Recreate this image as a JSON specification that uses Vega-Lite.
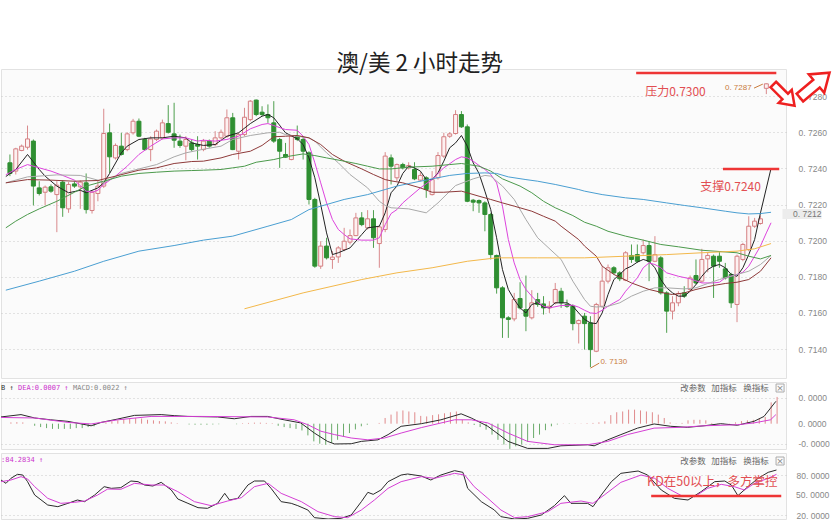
{
  "$schema": "https://vega.github.io/schema/vega-lite/v6.json",
  "background": "white",
  "padding": {"left": 0, "top": 52, "right": 0, "bottom": 0},
  "autosize": {"type": "pad"},
  "spacing": 2,
  "resolve": {"scale": {"color": "independent", "y": "independent", "x": "independent"}},
  "config": {
    "view": {"fill": "#fbfbfb", "stroke": "#e2e2e2", "strokeWidth": 1},
    "axis": {"labelFont": "Liberation Sans", "labelFontSize": 8.5, "labelColor": "#888888", "domain": false, "ticks": false, "gridDash": [1, 3], "gridColor": "#c8c8c8", "labelOverlap": false},
    "text": {"font": "Noto Sans CJK SC"}
  },
  "datasets": {
    "one": [{}],
    "candles": [
      {"i":0,"o":0.72431,"h":0.72477,"l":0.72357,"c":0.72372},
      {"i":1,"o":0.72385,"h":0.72514,"l":0.72366,"c":0.72508},
      {"i":2,"o":0.72499,"h":0.72532,"l":0.72495,"c":0.72523},
      {"i":3,"o":0.72517,"h":0.72637,"l":0.72504,"c":0.72563},
      {"i":4,"o":0.72551,"h":0.72560,"l":0.72195,"c":0.72302},
      {"i":5,"o":0.72292,"h":0.72329,"l":0.72250,"c":0.72261},
      {"i":6,"o":0.72268,"h":0.72305,"l":0.72195,"c":0.72296},
      {"i":7,"o":0.72298,"h":0.72311,"l":0.72265,"c":0.72274},
      {"i":8,"o":0.72255,"h":0.72329,"l":0.72047,"c":0.72307},
      {"i":9,"o":0.72324,"h":0.72333,"l":0.72132,"c":0.72182},
      {"i":10,"o":0.72176,"h":0.72324,"l":0.72154,"c":0.72311},
      {"i":11,"o":0.72314,"h":0.72329,"l":0.72292,"c":0.72302},
      {"i":12,"o":0.72298,"h":0.72333,"l":0.72176,"c":0.72324},
      {"i":13,"o":0.72320,"h":0.72372,"l":0.72150,"c":0.72172},
      {"i":14,"o":0.72167,"h":0.72279,"l":0.72150,"c":0.72268},
      {"i":15,"o":0.72261,"h":0.72333,"l":0.72218,"c":0.72302},
      {"i":16,"o":0.72302,"h":0.72730,"l":0.72292,"c":0.72593},
      {"i":17,"o":0.72597,"h":0.72648,"l":0.72375,"c":0.72464},
      {"i":18,"o":0.72458,"h":0.72538,"l":0.72449,"c":0.72527},
      {"i":19,"o":0.72523,"h":0.72597,"l":0.72471,"c":0.72477},
      {"i":20,"o":0.72504,"h":0.72600,"l":0.72495,"c":0.72591},
      {"i":21,"o":0.72597,"h":0.72674,"l":0.72587,"c":0.72661},
      {"i":22,"o":0.72661,"h":0.72676,"l":0.72573,"c":0.72578},
      {"i":23,"o":0.72560,"h":0.72569,"l":0.72499,"c":0.72504},
      {"i":24,"o":0.72504,"h":0.72578,"l":0.72440,"c":0.72563},
      {"i":25,"o":0.72560,"h":0.72615,"l":0.72551,"c":0.72606},
      {"i":26,"o":0.72569,"h":0.72670,"l":0.72560,"c":0.72652},
      {"i":27,"o":0.72648,"h":0.72750,"l":0.72593,"c":0.72600},
      {"i":28,"o":0.72591,"h":0.72763,"l":0.72514,"c":0.72556},
      {"i":29,"o":0.72551,"h":0.72587,"l":0.72514,"c":0.72527},
      {"i":30,"o":0.72523,"h":0.72578,"l":0.72445,"c":0.72560},
      {"i":31,"o":0.72541,"h":0.72560,"l":0.72495,"c":0.72504},
      {"i":32,"o":0.72532,"h":0.72578,"l":0.72449,"c":0.72523},
      {"i":33,"o":0.72504,"h":0.72563,"l":0.72495,"c":0.72551},
      {"i":34,"o":0.72551,"h":0.72560,"l":0.72514,"c":0.72523},
      {"i":35,"o":0.72532,"h":0.72606,"l":0.72523,"c":0.72569},
      {"i":36,"o":0.72569,"h":0.72615,"l":0.72560,"c":0.72600},
      {"i":37,"o":0.72578,"h":0.72726,"l":0.72569,"c":0.72680},
      {"i":38,"o":0.72680,"h":0.72707,"l":0.72501,"c":0.72504},
      {"i":39,"o":0.72495,"h":0.72597,"l":0.72449,"c":0.72587},
      {"i":40,"o":0.72587,"h":0.72735,"l":0.72578,"c":0.72683},
      {"i":41,"o":0.72670,"h":0.72778,"l":0.72661,"c":0.72772},
      {"i":42,"o":0.72778,"h":0.72781,"l":0.72689,"c":0.72698},
      {"i":43,"o":0.72711,"h":0.72744,"l":0.72689,"c":0.72698},
      {"i":44,"o":0.72698,"h":0.72754,"l":0.72652,"c":0.72680},
      {"i":45,"o":0.72652,"h":0.72772,"l":0.72541,"c":0.72551},
      {"i":46,"o":0.72560,"h":0.72569,"l":0.72403,"c":0.72495},
      {"i":47,"o":0.72477,"h":0.72541,"l":0.72458,"c":0.72462},
      {"i":48,"o":0.72449,"h":0.72582,"l":0.72445,"c":0.72578},
      {"i":49,"o":0.72575,"h":0.72637,"l":0.72551,"c":0.72560},
      {"i":50,"o":0.72560,"h":0.72578,"l":0.72449,"c":0.72495},
      {"i":51,"o":0.72486,"h":0.72495,"l":0.72200,"c":0.72228},
      {"i":52,"o":0.72228,"h":0.72237,"l":0.71850,"c":0.71859},
      {"i":53,"o":0.71859,"h":0.71997,"l":0.71844,"c":0.71970},
      {"i":54,"o":0.71970,"h":0.72016,"l":0.71896,"c":0.71905},
      {"i":55,"o":0.71896,"h":0.71942,"l":0.71844,"c":0.71909},
      {"i":56,"o":0.71910,"h":0.71970,"l":0.71877,"c":0.71960},
      {"i":57,"o":0.71951,"h":0.72071,"l":0.71942,"c":0.71997},
      {"i":58,"o":0.71992,"h":0.72062,"l":0.71979,"c":0.72028},
      {"i":59,"o":0.72028,"h":0.72154,"l":0.72025,"c":0.72126},
      {"i":60,"o":0.72126,"h":0.72158,"l":0.72080,"c":0.72089},
      {"i":61,"o":0.72071,"h":0.72169,"l":0.72062,"c":0.72121},
      {"i":62,"o":0.72121,"h":0.72169,"l":0.71960,"c":0.72016},
      {"i":63,"o":0.71984,"h":0.72080,"l":0.71850,"c":0.72076},
      {"i":64,"o":0.72062,"h":0.72490,"l":0.72047,"c":0.72468},
      {"i":65,"o":0.72458,"h":0.72477,"l":0.72311,"c":0.72412},
      {"i":66,"o":0.72348,"h":0.72427,"l":0.72329,"c":0.72421},
      {"i":67,"o":0.72421,"h":0.72431,"l":0.72394,"c":0.72403},
      {"i":68,"o":0.72403,"h":0.72434,"l":0.72394,"c":0.72416},
      {"i":69,"o":0.72394,"h":0.72434,"l":0.72335,"c":0.72342},
      {"i":70,"o":0.72335,"h":0.72379,"l":0.72329,"c":0.72361},
      {"i":71,"o":0.72348,"h":0.72357,"l":0.72237,"c":0.72283},
      {"i":72,"o":0.72255,"h":0.72385,"l":0.72250,"c":0.72338},
      {"i":73,"o":0.72348,"h":0.72490,"l":0.72338,"c":0.72471},
      {"i":74,"o":0.72468,"h":0.72597,"l":0.72458,"c":0.72575},
      {"i":75,"o":0.72578,"h":0.72600,"l":0.72569,"c":0.72591},
      {"i":76,"o":0.72593,"h":0.72722,"l":0.72587,"c":0.72698},
      {"i":77,"o":0.72698,"h":0.72717,"l":0.72624,"c":0.72630},
      {"i":78,"o":0.72630,"h":0.72643,"l":0.72213,"c":0.72218},
      {"i":79,"o":0.72224,"h":0.72231,"l":0.72163,"c":0.72213},
      {"i":80,"o":0.72222,"h":0.72228,"l":0.72154,"c":0.72209},
      {"i":81,"o":0.72209,"h":0.72218,"l":0.72052,"c":0.72145},
      {"i":82,"o":0.72145,"h":0.72154,"l":0.71896,"c":0.71923},
      {"i":83,"o":0.71918,"h":0.71923,"l":0.71707,"c":0.71739},
      {"i":84,"o":0.71739,"h":0.71748,"l":0.71462,"c":0.71573},
      {"i":85,"o":0.71573,"h":0.71582,"l":0.71462,"c":0.71564},
      {"i":86,"o":0.71567,"h":0.71711,"l":0.71554,"c":0.71674},
      {"i":87,"o":0.71680,"h":0.71770,"l":0.71619,"c":0.71628},
      {"i":88,"o":0.71619,"h":0.71807,"l":0.71499,"c":0.71582},
      {"i":89,"o":0.71573,"h":0.71726,"l":0.71564,"c":0.71656},
      {"i":90,"o":0.71674,"h":0.71711,"l":0.71634,"c":0.71647},
      {"i":91,"o":0.71650,"h":0.71693,"l":0.71591,"c":0.71628},
      {"i":92,"o":0.71628,"h":0.71665,"l":0.71600,"c":0.71637},
      {"i":93,"o":0.71656,"h":0.71766,"l":0.71647,"c":0.71730},
      {"i":94,"o":0.71720,"h":0.71739,"l":0.71628,"c":0.71656},
      {"i":95,"o":0.71647,"h":0.71674,"l":0.71628,"c":0.71637},
      {"i":96,"o":0.71637,"h":0.71647,"l":0.71504,"c":0.71541},
      {"i":97,"o":0.71541,"h":0.71564,"l":0.71431,"c":0.71558},
      {"i":98,"o":0.71582,"h":0.71600,"l":0.71397,"c":0.71541},
      {"i":99,"o":0.71545,"h":0.71582,"l":0.71300,"c":0.71397},
      {"i":100,"o":0.71388,"h":0.71656,"l":0.71383,"c":0.71647},
      {"i":101,"o":0.71637,"h":0.71859,"l":0.71628,"c":0.71776},
      {"i":102,"o":0.71776,"h":0.71868,"l":0.71763,"c":0.71850},
      {"i":103,"o":0.71850,"h":0.71859,"l":0.71813,"c":0.71822},
      {"i":104,"o":0.71822,"h":0.71831,"l":0.71776,"c":0.71789},
      {"i":105,"o":0.71781,"h":0.71942,"l":0.71776,"c":0.71933},
      {"i":106,"o":0.71918,"h":0.71979,"l":0.71877,"c":0.71896},
      {"i":107,"o":0.71923,"h":0.71979,"l":0.71877,"c":0.71886},
      {"i":108,"o":0.71933,"h":0.72006,"l":0.71923,"c":0.71973},
      {"i":109,"o":0.71973,"h":0.71997,"l":0.71776,"c":0.71886},
      {"i":110,"o":0.71886,"h":0.72025,"l":0.71881,"c":0.71923},
      {"i":111,"o":0.71905,"h":0.71914,"l":0.71702,"c":0.71711},
      {"i":112,"o":0.71711,"h":0.71720,"l":0.71490,"c":0.71610},
      {"i":113,"o":0.71610,"h":0.71693,"l":0.71564,"c":0.71656},
      {"i":114,"o":0.71656,"h":0.71720,"l":0.71637,"c":0.71707},
      {"i":115,"o":0.71711,"h":0.71748,"l":0.71683,"c":0.71693},
      {"i":116,"o":0.71730,"h":0.71807,"l":0.71720,"c":0.71794},
      {"i":117,"o":0.71807,"h":0.71896,"l":0.71757,"c":0.71766},
      {"i":118,"o":0.71776,"h":0.71955,"l":0.71766,"c":0.71896},
      {"i":119,"o":0.71899,"h":0.71933,"l":0.71825,"c":0.71918},
      {"i":120,"o":0.71914,"h":0.71923,"l":0.71683,"c":0.71859},
      {"i":121,"o":0.71914,"h":0.71942,"l":0.71850,"c":0.71886},
      {"i":122,"o":0.71844,"h":0.71877,"l":0.71785,"c":0.71794},
      {"i":123,"o":0.71813,"h":0.71822,"l":0.71628,"c":0.71656},
      {"i":124,"o":0.71647,"h":0.71923,"l":0.71549,"c":0.71914},
      {"i":125,"o":0.71896,"h":0.71988,"l":0.71886,"c":0.71979},
      {"i":126,"o":0.71951,"h":0.72135,"l":0.71942,"c":0.72080},
      {"i":127,"o":0.72080,"h":0.72126,"l":0.72071,"c":0.72108},
      {"i":128,"o":0.72095,"h":0.72139,"l":0.72089,"c":0.72121},
      {"i":129,"o":0.72843,"h":0.72870,"l":0.72811,"c":0.72868}
    ],
    "ma": [
      {"m":"MA5","i":-0.7,"v":0.72355},{"m":"MA5","i":1,"v":0.72394},{"m":"MA5","i":3,"v":0.72477},{"m":"MA5","i":5,"v":0.72394},{"m":"MA5","i":6,"v":0.72357},{"m":"MA5","i":8,"v":0.72302},{"m":"MA5","i":10,"v":0.72265},{"m":"MA5","i":12,"v":0.72279},{"m":"MA5","i":13,"v":0.72265},{"m":"MA5","i":15,"v":0.72292},{"m":"MA5","i":16,"v":0.7232},{"m":"MA5","i":17,"v":0.72372},{"m":"MA5","i":19,"v":0.72486},{"m":"MA5","i":20,"v":0.72523},{"m":"MA5","i":22,"v":0.7256},{"m":"MA5","i":24,"v":0.72569},{"m":"MA5","i":26,"v":0.72569},{"m":"MA5","i":28,"v":0.72578},{"m":"MA5","i":30,"v":0.72569},{"m":"MA5","i":31,"v":0.72541},{"m":"MA5","i":33,"v":0.72527},{"m":"MA5","i":35,"v":0.72532},{"m":"MA5","i":37,"v":0.72578},{"m":"MA5","i":39,"v":0.72597},{"m":"MA5","i":41,"v":0.72648},{"m":"MA5","i":43,"v":0.72689},{"m":"MA5","i":44,"v":0.72698},{"m":"MA5","i":45,"v":0.7268},{"m":"MA5","i":47,"v":0.72597},{"m":"MA5","i":49,"v":0.72564},{"m":"MA5","i":50,"v":0.72532},{"m":"MA5","i":51,"v":0.72458},{"m":"MA5","i":52,"v":0.72348},{"m":"MA5","i":53,"v":0.722},{"m":"MA5","i":54,"v":0.72043},{"m":"MA5","i":55,"v":0.71923},{"m":"MA5","i":56,"v":0.71933},{"m":"MA5","i":58,"v":0.7196},{"m":"MA5","i":60,"v":0.72034},{"m":"MA5","i":61,"v":0.72071},{"m":"MA5","i":63,"v":0.7208},{"m":"MA5","i":64,"v":0.72154},{"m":"MA5","i":65,"v":0.72265},{"m":"MA5","i":66,"v":0.72302},{"m":"MA5","i":67,"v":0.72372},{"m":"MA5","i":68,"v":0.72412},{"m":"MA5","i":69,"v":0.72403},{"m":"MA5","i":70,"v":0.72385},{"m":"MA5","i":71,"v":0.72338},{"m":"MA5","i":72,"v":0.72338},{"m":"MA5","i":73,"v":0.72375},{"m":"MA5","i":74,"v":0.7244},{"m":"MA5","i":75,"v":0.72514},{"m":"MA5","i":76,"v":0.72541},{"m":"MA5","i":77,"v":0.72582},{"m":"MA5","i":78,"v":0.72523},{"m":"MA5","i":79,"v":0.72431},{"m":"MA5","i":80,"v":0.72372},{"m":"MA5","i":81,"v":0.72274},{"m":"MA5","i":82,"v":0.72172},{"m":"MA5","i":83,"v":0.72016},{"m":"MA5","i":84,"v":0.7184},{"m":"MA5","i":85,"v":0.7173},{"m":"MA5","i":86,"v":0.71674},{"m":"MA5","i":87,"v":0.71628},{"m":"MA5","i":88,"v":0.716},{"m":"MA5","i":89,"v":0.71647},{"m":"MA5","i":90,"v":0.71656},{"m":"MA5","i":91,"v":0.71634},{"m":"MA5","i":92,"v":0.71628},{"m":"MA5","i":93,"v":0.71656},{"m":"MA5","i":95,"v":0.71656},{"m":"MA5","i":96,"v":0.71637},{"m":"MA5","i":97,"v":0.716},{"m":"MA5","i":98,"v":0.71564},{"m":"MA5","i":99,"v":0.71545},{"m":"MA5","i":100,"v":0.71541},{"m":"MA5","i":101,"v":0.716},{"m":"MA5","i":102,"v":0.71702},{"m":"MA5","i":103,"v":0.71785},{"m":"MA5","i":104,"v":0.71813},{"m":"MA5","i":105,"v":0.71844},{"m":"MA5","i":106,"v":0.71859},{"m":"MA5","i":107,"v":0.71881},{"m":"MA5","i":108,"v":0.71896},{"m":"MA5","i":109,"v":0.71886},{"m":"MA5","i":110,"v":0.7185},{"m":"MA5","i":111,"v":0.71785},{"m":"MA5","i":112,"v":0.71739},{"m":"MA5","i":113,"v":0.71711},{"m":"MA5","i":114,"v":0.71693},{"m":"MA5","i":115,"v":0.71693},{"m":"MA5","i":116,"v":0.7172},{"m":"MA5","i":117,"v":0.71757},{"m":"MA5","i":118,"v":0.71803},{"m":"MA5","i":119,"v":0.7184},{"m":"MA5","i":120,"v":0.71859},{"m":"MA5","i":121,"v":0.71868},{"m":"MA5","i":122,"v":0.7185},{"m":"MA5","i":123,"v":0.71813},{"m":"MA5","i":124,"v":0.71803},{"m":"MA5","i":125,"v":0.7185},{"m":"MA5","i":126,"v":0.71923},{"m":"MA5","i":127,"v":0.72006},{"m":"MA5","i":128,"v":0.72154},{"m":"MA5","i":129.8,"v":0.724},
      {"m":"MA10","i":-0.7,"v":0.72365},{"m":"MA10","i":1,"v":0.72394},{"m":"MA10","i":3,"v":0.72421},{"m":"MA10","i":5,"v":0.72403},{"m":"MA10","i":7,"v":0.72385},{"m":"MA10","i":9,"v":0.72361},{"m":"MA10","i":11,"v":0.72335},{"m":"MA10","i":13,"v":0.72274},{"m":"MA10","i":14,"v":0.72268},{"m":"MA10","i":15,"v":0.72279},{"m":"MA10","i":16,"v":0.72311},{"m":"MA10","i":18,"v":0.72357},{"m":"MA10","i":20,"v":0.72412},{"m":"MA10","i":22,"v":0.72477},{"m":"MA10","i":24,"v":0.72523},{"m":"MA10","i":26,"v":0.72563},{"m":"MA10","i":28,"v":0.72569},{"m":"MA10","i":30,"v":0.72569},{"m":"MA10","i":32,"v":0.72551},{"m":"MA10","i":33,"v":0.72556},{"m":"MA10","i":35,"v":0.72551},{"m":"MA10","i":37,"v":0.7256},{"m":"MA10","i":39,"v":0.72578},{"m":"MA10","i":41,"v":0.72619},{"m":"MA10","i":43,"v":0.72643},{"m":"MA10","i":44,"v":0.72648},{"m":"MA10","i":45,"v":0.72637},{"m":"MA10","i":47,"v":0.72615},{"m":"MA10","i":49,"v":0.72611},{"m":"MA10","i":50,"v":0.72578},{"m":"MA10","i":51,"v":0.72532},{"m":"MA10","i":52,"v":0.72431},{"m":"MA10","i":53,"v":0.7232},{"m":"MA10","i":54,"v":0.72209},{"m":"MA10","i":55,"v":0.72117},{"m":"MA10","i":56,"v":0.72062},{"m":"MA10","i":57,"v":0.72034},{"m":"MA10","i":58,"v":0.7201},{"m":"MA10","i":60,"v":0.72003},{"m":"MA10","i":62,"v":0.72003},{"m":"MA10","i":63,"v":0.72016},{"m":"MA10","i":64,"v":0.72089},{"m":"MA10","i":65,"v":0.7215},{"m":"MA10","i":66,"v":0.72172},{"m":"MA10","i":67,"v":0.72209},{"m":"MA10","i":68,"v":0.72237},{"m":"MA10","i":70,"v":0.72292},{"m":"MA10","i":72,"v":0.72338},{"m":"MA10","i":73,"v":0.72372},{"m":"MA10","i":74,"v":0.72403},{"m":"MA10","i":76,"v":0.72449},{"m":"MA10","i":77,"v":0.72464},{"m":"MA10","i":78,"v":0.72458},{"m":"MA10","i":79,"v":0.7244},{"m":"MA10","i":80,"v":0.72416},{"m":"MA10","i":81,"v":0.72394},{"m":"MA10","i":82,"v":0.72366},{"m":"MA10","i":83,"v":0.7232},{"m":"MA10","i":84,"v":0.72191},{"m":"MA10","i":85,"v":0.72006},{"m":"MA10","i":86,"v":0.71877},{"m":"MA10","i":87,"v":0.71785},{"m":"MA10","i":88,"v":0.7173},{"m":"MA10","i":89,"v":0.71693},{"m":"MA10","i":90,"v":0.71659},{"m":"MA10","i":91,"v":0.71637},{"m":"MA10","i":92,"v":0.71628},{"m":"MA10","i":94,"v":0.71641},{"m":"MA10","i":96,"v":0.71643},{"m":"MA10","i":97,"v":0.71632},{"m":"MA10","i":98,"v":0.71615},{"m":"MA10","i":99,"v":0.716},{"m":"MA10","i":100,"v":0.71597},{"m":"MA10","i":101,"v":0.71615},{"m":"MA10","i":102,"v":0.71637},{"m":"MA10","i":103,"v":0.71656},{"m":"MA10","i":104,"v":0.71674},{"m":"MA10","i":105,"v":0.7172},{"m":"MA10","i":106,"v":0.71757},{"m":"MA10","i":107,"v":0.71794},{"m":"MA10","i":108,"v":0.7185},{"m":"MA10","i":109,"v":0.71877},{"m":"MA10","i":110,"v":0.71868},{"m":"MA10","i":111,"v":0.7185},{"m":"MA10","i":112,"v":0.71822},{"m":"MA10","i":114,"v":0.71803},{"m":"MA10","i":116,"v":0.71789},{"m":"MA10","i":118,"v":0.71766},{"m":"MA10","i":120,"v":0.71766},{"m":"MA10","i":121,"v":0.7177},{"m":"MA10","i":122,"v":0.71794},{"m":"MA10","i":124,"v":0.71813},{"m":"MA10","i":125,"v":0.71825},{"m":"MA10","i":126,"v":0.71859},{"m":"MA10","i":127,"v":0.71914},{"m":"MA10","i":128,"v":0.7197},{"m":"MA10","i":129,"v":0.72043},{"m":"MA10","i":129.8,"v":0.72099},
      {"m":"MA20","i":-0.7,"v":0.7232},{"m":"MA20","i":3,"v":0.72353},{"m":"MA20","i":8,"v":0.72364},{"m":"MA20","i":12,"v":0.72361},{"m":"MA20","i":15,"v":0.72335},{"m":"MA20","i":16,"v":0.7232},{"m":"MA20","i":19,"v":0.72372},{"m":"MA20","i":22,"v":0.72397},{"m":"MA20","i":25,"v":0.72421},{"m":"MA20","i":28,"v":0.72464},{"m":"MA20","i":30,"v":0.72486},{"m":"MA20","i":33,"v":0.72506},{"m":"MA20","i":36,"v":0.72523},{"m":"MA20","i":38,"v":0.7256},{"m":"MA20","i":41,"v":0.72582},{"m":"MA20","i":44,"v":0.72597},{"m":"MA20","i":46,"v":0.726},{"m":"MA20","i":47,"v":0.72587},{"m":"MA20","i":49,"v":0.72578},{"m":"MA20","i":51,"v":0.72569},{"m":"MA20","i":52,"v":0.72551},{"m":"MA20","i":54,"v":0.72486},{"m":"MA20","i":56,"v":0.72431},{"m":"MA20","i":58,"v":0.72366},{"m":"MA20","i":61,"v":0.72292},{"m":"MA20","i":63,"v":0.72218},{"m":"MA20","i":64,"v":0.72195},{"m":"MA20","i":65,"v":0.72182},{"m":"MA20","i":66,"v":0.7218},{"m":"MA20","i":68,"v":0.72176},{"m":"MA20","i":71,"v":0.72154},{"m":"MA20","i":73,"v":0.72209},{"m":"MA20","i":76,"v":0.72305},{"m":"MA20","i":79,"v":0.72342},{"m":"MA20","i":81,"v":0.72361},{"m":"MA20","i":82,"v":0.72357},{"m":"MA20","i":84,"v":0.72302},{"m":"MA20","i":86,"v":0.72228},{"m":"MA20","i":88,"v":0.72117},{"m":"MA20","i":90,"v":0.72016},{"m":"MA20","i":94,"v":0.71896},{"m":"MA20","i":96,"v":0.71776},{"m":"MA20","i":98,"v":0.71674},{"m":"MA20","i":99,"v":0.71637},{"m":"MA20","i":100,"v":0.71633},{"m":"MA20","i":102,"v":0.71637},{"m":"MA20","i":104,"v":0.71656},{"m":"MA20","i":106,"v":0.71693},{"m":"MA20","i":108,"v":0.7172},{"m":"MA20","i":110,"v":0.71739},{"m":"MA20","i":112,"v":0.71739},{"m":"MA20","i":115,"v":0.71733},{"m":"MA20","i":117,"v":0.71739},{"m":"MA20","i":119,"v":0.71763},{"m":"MA20","i":121,"v":0.71785},{"m":"MA20","i":124,"v":0.71813},{"m":"MA20","i":126,"v":0.71831},{"m":"MA20","i":128,"v":0.71868},{"m":"MA20","i":129.8,"v":0.71918},
      {"m":"MA30","i":-0.7,"v":0.7232},{"m":"MA30","i":3,"v":0.72338},{"m":"MA30","i":7,"v":0.72335},{"m":"MA30","i":11,"v":0.72329},{"m":"MA30","i":15,"v":0.72333},{"m":"MA30","i":18,"v":0.72357},{"m":"MA30","i":22,"v":0.7239},{"m":"MA30","i":25,"v":0.72403},{"m":"MA30","i":28,"v":0.72427},{"m":"MA30","i":31,"v":0.72438},{"m":"MA30","i":33,"v":0.7244},{"m":"MA30","i":36,"v":0.72458},{"m":"MA30","i":38,"v":0.72477},{"m":"MA30","i":41,"v":0.72495},{"m":"MA30","i":43,"v":0.72527},{"m":"MA30","i":45,"v":0.72575},{"m":"MA30","i":47,"v":0.72578},{"m":"MA30","i":49,"v":0.72582},{"m":"MA30","i":51,"v":0.72569},{"m":"MA30","i":53,"v":0.72532},{"m":"MA30","i":55,"v":0.72477},{"m":"MA30","i":57,"v":0.7244},{"m":"MA30","i":60,"v":0.72397},{"m":"MA30","i":62,"v":0.72366},{"m":"MA30","i":64,"v":0.72338},{"m":"MA30","i":65,"v":0.72331},{"m":"MA30","i":67,"v":0.7232},{"m":"MA30","i":70,"v":0.72292},{"m":"MA30","i":72,"v":0.72268},{"m":"MA30","i":74,"v":0.72268},{"m":"MA30","i":77,"v":0.72274},{"m":"MA30","i":78,"v":0.72265},{"m":"MA30","i":80,"v":0.72246},{"m":"MA30","i":82,"v":0.72228},{"m":"MA30","i":84,"v":0.72209},{"m":"MA30","i":86,"v":0.72191},{"m":"MA30","i":89,"v":0.72163},{"m":"MA30","i":91,"v":0.72135},{"m":"MA30","i":93,"v":0.72108},{"m":"MA30","i":94,"v":0.7208},{"m":"MA30","i":97,"v":0.72006},{"m":"MA30","i":98,"v":0.7197},{"m":"MA30","i":100,"v":0.71914},{"m":"MA30","i":101,"v":0.71859},{"m":"MA30","i":103,"v":0.71813},{"m":"MA30","i":106,"v":0.71766},{"m":"MA30","i":109,"v":0.7173},{"m":"MA30","i":112,"v":0.71707},{"m":"MA30","i":113,"v":0.71702},{"m":"MA30","i":115,"v":0.71711},{"m":"MA30","i":117,"v":0.7173},{"m":"MA30","i":120,"v":0.71752},{"m":"MA30","i":122,"v":0.71763},{"m":"MA30","i":124,"v":0.7177},{"m":"MA30","i":126,"v":0.71785},{"m":"MA30","i":128,"v":0.71831},{"m":"MA30","i":129.8,"v":0.71905},
      {"m":"MA60","i":-0.7,"v":0.72071},{"m":"MA60","i":1,"v":0.72108},{"m":"MA60","i":3,"v":0.72145},{"m":"MA60","i":5,"v":0.72176},{"m":"MA60","i":8,"v":0.72218},{"m":"MA60","i":11,"v":0.72268},{"m":"MA60","i":13,"v":0.72302},{"m":"MA60","i":16,"v":0.72329},{"m":"MA60","i":19,"v":0.72357},{"m":"MA60","i":22,"v":0.72372},{"m":"MA60","i":25,"v":0.72379},{"m":"MA60","i":28,"v":0.72385},{"m":"MA60","i":31,"v":0.72388},{"m":"MA60","i":33,"v":0.7239},{"m":"MA60","i":36,"v":0.72394},{"m":"MA60","i":38,"v":0.72403},{"m":"MA60","i":40,"v":0.72412},{"m":"MA60","i":42,"v":0.72434},{"m":"MA60","i":45,"v":0.72449},{"m":"MA60","i":47,"v":0.72464},{"m":"MA60","i":50,"v":0.7248},{"m":"MA60","i":52,"v":0.72471},{"m":"MA60","i":54,"v":0.72458},{"m":"MA60","i":57,"v":0.7244},{"m":"MA60","i":59,"v":0.72427},{"m":"MA60","i":61,"v":0.72412},{"m":"MA60","i":63,"v":0.72397},{"m":"MA60","i":65,"v":0.72397},{"m":"MA60","i":68,"v":0.72407},{"m":"MA60","i":72,"v":0.72412},{"m":"MA60","i":75,"v":0.72421},{"m":"MA60","i":77,"v":0.72427},{"m":"MA60","i":80,"v":0.72412},{"m":"MA60","i":82,"v":0.72385},{"m":"MA60","i":84,"v":0.72342},{"m":"MA60","i":87,"v":0.72302},{"m":"MA60","i":89,"v":0.72265},{"m":"MA60","i":91,"v":0.72218},{"m":"MA60","i":93,"v":0.72182},{"m":"MA60","i":96,"v":0.72139},{"m":"MA60","i":98,"v":0.72102},{"m":"MA60","i":100,"v":0.7208},{"m":"MA60","i":102,"v":0.72052},{"m":"MA60","i":105,"v":0.72025},{"m":"MA60","i":108,"v":0.72003},{"m":"MA60","i":111,"v":0.71979},{"m":"MA60","i":114,"v":0.71966},{"m":"MA60","i":118,"v":0.71947},{"m":"MA60","i":121,"v":0.7194},{"m":"MA60","i":124,"v":0.71933},{"m":"MA60","i":126,"v":0.71914},{"m":"MA60","i":128,"v":0.71899},{"m":"MA60","i":129.8,"v":0.71918},
      {"m":"MA120","i":-0.7,"v":0.71726},{"m":"MA120","i":5,"v":0.71776},{"m":"MA120","i":11,"v":0.71831},{"m":"MA120","i":16,"v":0.71886},{"m":"MA120","i":22,"v":0.71942},{"m":"MA120","i":28,"v":0.71973},{"m":"MA120","i":33,"v":0.72003},{"m":"MA120","i":38,"v":0.72025},{"m":"MA120","i":44,"v":0.7208},{"m":"MA120","i":48,"v":0.72117},{"m":"MA120","i":51,"v":0.72172},{"m":"MA120","i":54,"v":0.722},{"m":"MA120","i":57,"v":0.72228},{"m":"MA120","i":61,"v":0.72255},{"m":"MA120","i":64,"v":0.72283},{"m":"MA120","i":66,"v":0.72302},{"m":"MA120","i":68,"v":0.72316},{"m":"MA120","i":72,"v":0.72342},{"m":"MA120","i":75,"v":0.72361},{"m":"MA120","i":78,"v":0.72372},{"m":"MA120","i":81,"v":0.72375},{"m":"MA120","i":83,"v":0.72372},{"m":"MA120","i":85,"v":0.72353},{"m":"MA120","i":88,"v":0.72338},{"m":"MA120","i":90,"v":0.72329},{"m":"MA120","i":93,"v":0.72311},{"m":"MA120","i":97,"v":0.72283},{"m":"MA120","i":98,"v":0.72274},{"m":"MA120","i":101,"v":0.72255},{"m":"MA120","i":105,"v":0.72237},{"m":"MA120","i":108,"v":0.72228},{"m":"MA120","i":112,"v":0.72209},{"m":"MA120","i":115,"v":0.72195},{"m":"MA120","i":118,"v":0.72182},{"m":"MA120","i":122,"v":0.72163},{"m":"MA120","i":124,"v":0.72154},{"m":"MA120","i":126,"v":0.72148},{"m":"MA120","i":128,"v":0.7215},{"m":"MA120","i":129.8,"v":0.72157},
      {"m":"MA200","i":40,"v":0.71623},{"m":"MA200","i":50,"v":0.71711},{"m":"MA200","i":60,"v":0.71785},{"m":"MA200","i":66,"v":0.71822},{"m":"MA200","i":72,"v":0.7185},{"m":"MA200","i":78,"v":0.71886},{"m":"MA200","i":83,"v":0.71905},{"m":"MA200","i":90,"v":0.71905},{"m":"MA200","i":98,"v":0.71905},{"m":"MA200","i":105,"v":0.71914},{"m":"MA200","i":112,"v":0.71923},{"m":"MA200","i":118,"v":0.71933},{"m":"MA200","i":124,"v":0.71942},{"m":"MA200","i":127,"v":0.71955},{"m":"MA200","i":129.8,"v":0.71984}
    ],
    "hist": [
      {"i":1,"h":0.05},{"i":2,"h":0.06},{"i":3,"h":0.05},{"i":5,"h":-0.08},{"i":6,"h":-0.13},{"i":7,"h":-0.17},{"i":8,"h":-0.2},{"i":9,"h":-0.2},{"i":10,"h":-0.2},{"i":11,"h":-0.2},{"i":12,"h":-0.17},{"i":13,"h":-0.17},{"i":14,"h":-0.13},{"i":15,"h":-0.1},{"i":17,"h":0.05},{"i":18,"h":0.09},{"i":19,"h":0.13},{"i":20,"h":0.17},{"i":21,"h":0.2},{"i":22,"h":0.22},{"i":23,"h":0.2},{"i":24,"h":0.15},{"i":25,"h":0.13},{"i":26,"h":0.1},{"i":27,"h":0.09},{"i":28,"h":0.05},{"i":29,"h":0.02},{"i":31,"h":-0.03},{"i":32,"h":-0.04},{"i":33,"h":-0.04},{"i":34,"h":-0.04},{"i":35,"h":-0.03},{"i":36,"h":-0.02},{"i":39,"h":-0.02},{"i":40,"h":0.02},{"i":41,"h":0.03},{"i":42,"h":0.04},{"i":43,"h":0.04},{"i":44,"h":0.03},{"i":45,"h":0.02},{"i":46,"h":-0.08},{"i":47,"h":-0.13},{"i":48,"h":-0.17},{"i":49,"h":-0.2},{"i":50,"h":-0.26},{"i":51,"h":-0.45},{"i":52,"h":-0.68},{"i":53,"h":-0.77},{"i":54,"h":-0.81},{"i":55,"h":-0.74},{"i":56,"h":-0.62},{"i":57,"h":-0.49},{"i":58,"h":-0.36},{"i":59,"h":-0.22},{"i":60,"h":-0.1},{"i":61,"h":-0.04},{"i":63,"h":0.03},{"i":64,"h":0.22},{"i":65,"h":0.35},{"i":66,"h":0.47},{"i":67,"h":0.51},{"i":68,"h":0.47},{"i":69,"h":0.44},{"i":70,"h":0.3},{"i":71,"h":0.28},{"i":72,"h":0.33},{"i":73,"h":0.36},{"i":74,"h":0.4},{"i":75,"h":0.44},{"i":76,"h":0.47},{"i":77,"h":0.15},{"i":78,"h":0.05},{"i":79,"h":-0.05},{"i":80,"h":-0.13},{"i":81,"h":-0.23},{"i":82,"h":-0.42},{"i":83,"h":-0.62},{"i":84,"h":-0.8},{"i":85,"h":-0.97},{"i":86,"h":-0.87},{"i":87,"h":-0.8},{"i":88,"h":-0.7},{"i":89,"h":-0.55},{"i":90,"h":-0.42},{"i":91,"h":-0.25},{"i":92,"h":-0.1},{"i":93,"h":-0.03},{"i":94,"h":0.01},{"i":95,"h":-0.01},{"i":96,"h":0.01},{"i":97,"h":0.01},{"i":98,"h":0.02},{"i":99,"h":0.03},{"i":100,"h":0.05},{"i":101,"h":0.09},{"i":102,"h":0.33},{"i":103,"h":0.44},{"i":104,"h":0.47},{"i":105,"h":0.54},{"i":106,"h":0.54},{"i":107,"h":0.51},{"i":108,"h":0.47},{"i":109,"h":0.44},{"i":110,"h":0.35},{"i":111,"h":0.22},{"i":112,"h":0.05},{"i":113,"h":0.01},{"i":114,"h":0.03},{"i":115,"h":0.13},{"i":116,"h":0.15},{"i":117,"h":0.15},{"i":118,"h":0.13},{"i":119,"h":0.03},{"i":120,"h":0.01},{"i":121,"h":-0.01},{"i":122,"h":0.01},{"i":123,"h":0.05},{"i":124,"h":0.1},{"i":125,"h":0.13},{"i":126,"h":0.15},{"i":127,"h":0.2},{"i":128,"h":0.26},{"i":129,"h":0.82},{"i":130,"h":1.03}
    ],
    "macd": [
      {"k":"DIF","i":-0.67,"v":0.26},{"k":"DIF","i":2.7,"v":0.35},{"k":"DIF","i":5,"v":0.22},{"k":"DIF","i":7.7,"v":0.15},{"k":"DIF","i":10.6,"v":0.09},{"k":"DIF","i":14.5,"v":-0.08},{"k":"DIF","i":16.2,"v":0.05},{"k":"DIF","i":19,"v":0.18},{"k":"DIF","i":21.8,"v":0.32},{"k":"DIF","i":26.3,"v":0.35},{"k":"DIF","i":28.5,"v":0.31},{"k":"DIF","i":30.8,"v":0.28},{"k":"DIF","i":35.8,"v":0.26},{"k":"DIF","i":38.6,"v":0.19},{"k":"DIF","i":41.4,"v":0.28},{"k":"DIF","i":44.2,"v":0.28},{"k":"DIF","i":47,"v":0.15},{"k":"DIF","i":49.8,"v":0.03},{"k":"DIF","i":52.1,"v":-0.36},{"k":"DIF","i":54.3,"v":-0.68},{"k":"DIF","i":55.5,"v":-0.78},{"k":"DIF","i":58.3,"v":-0.77},{"k":"DIF","i":60,"v":-0.68},{"k":"DIF","i":62.8,"v":-0.62},{"k":"DIF","i":64.5,"v":-0.42},{"k":"DIF","i":66.7,"v":-0.1},{"k":"DIF","i":70.1,"v":0},{"k":"DIF","i":73.4,"v":0.15},{"k":"DIF","i":76.8,"v":0.38},{"k":"DIF","i":78.5,"v":0.22},{"k":"DIF","i":81.3,"v":-0.1},{"k":"DIF","i":84.7,"v":-0.68},{"k":"DIF","i":88,"v":-0.95},{"k":"DIF","i":91.4,"v":-0.95},{"k":"DIF","i":93.6,"v":-0.85},{"k":"DIF","i":98.1,"v":-0.81},{"k":"DIF","i":99.2,"v":-0.85},{"k":"DIF","i":101.5,"v":-0.62},{"k":"DIF","i":103.7,"v":-0.42},{"k":"DIF","i":106.5,"v":-0.17},{"k":"DIF","i":109.3,"v":-0.01},{"k":"DIF","i":112.1,"v":-0.1},{"k":"DIF","i":114.9,"v":-0.14},{"k":"DIF","i":117.7,"v":-0.08},{"k":"DIF","i":120.5,"v":0},{"k":"DIF","i":123.3,"v":-0.06},{"k":"DIF","i":126.1,"v":0.09},{"k":"DIF","i":127.8,"v":0.28},{"k":"DIF","i":128.9,"v":0.6},{"k":"DIF","i":129.8,"v":0.86},
      {"k":"DEA","i":-0.67,"v":0.24},{"k":"DEA","i":5,"v":0.22},{"k":"DEA","i":10.6,"v":0.05},{"k":"DEA","i":14.5,"v":-0.01},{"k":"DEA","i":19,"v":0.15},{"k":"DEA","i":24.6,"v":0.28},{"k":"DEA","i":33,"v":0.28},{"k":"DEA","i":44.2,"v":0.26},{"k":"DEA","i":48.7,"v":0.15},{"k":"DEA","i":51,"v":-0.04},{"k":"DEA","i":53.2,"v":-0.29},{"k":"DEA","i":55.5,"v":-0.42},{"k":"DEA","i":58.3,"v":-0.55},{"k":"DEA","i":61.1,"v":-0.62},{"k":"DEA","i":63.9,"v":-0.55},{"k":"DEA","i":66.7,"v":-0.36},{"k":"DEA","i":70.1,"v":-0.15},{"k":"DEA","i":75.7,"v":0.15},{"k":"DEA","i":78.5,"v":0.15},{"k":"DEA","i":81.3,"v":0.03},{"k":"DEA","i":84.7,"v":-0.36},{"k":"DEA","i":88,"v":-0.68},{"k":"DEA","i":92.5,"v":-0.81},{"k":"DEA","i":98.1,"v":-0.81},{"k":"DEA","i":101.5,"v":-0.68},{"k":"DEA","i":104.8,"v":-0.42},{"k":"DEA","i":109.3,"v":-0.17},{"k":"DEA","i":113.8,"v":-0.14},{"k":"DEA","i":117.7,"v":-0.08},{"k":"DEA","i":123.3,"v":-0.04},{"k":"DEA","i":126.1,"v":0.03},{"k":"DEA","i":128.9,"v":0.15},{"k":"DEA","i":129.8,"v":0.35}
    ],
    "kd": [
      {"k":"K","i":-0.67,"v":72.5},{"k":"K","i":0.17,"v":67.5},{"k":"K","i":1,"v":75},{"k":"K","i":2.1,"v":81},{"k":"K","i":3,"v":80},{"k":"K","i":3.8,"v":70},{"k":"K","i":5,"v":50},{"k":"K","i":7.2,"v":35},{"k":"K","i":8.9,"v":32.5},{"k":"K","i":10.6,"v":37.5},{"k":"K","i":12.2,"v":42.5},{"k":"K","i":13.4,"v":40},{"k":"K","i":15.1,"v":50},{"k":"K","i":16.7,"v":62.5},{"k":"K","i":17.9,"v":60},{"k":"K","i":19.5,"v":61},{"k":"K","i":21.2,"v":71},{"k":"K","i":22.4,"v":70},{"k":"K","i":23.5,"v":65},{"k":"K","i":24.9,"v":63.5},{"k":"K","i":26.3,"v":69},{"k":"K","i":28,"v":57.5},{"k":"K","i":29.1,"v":44},{"k":"K","i":30.8,"v":37.5},{"k":"K","i":32.5,"v":31},{"k":"K","i":34.1,"v":30},{"k":"K","i":35.8,"v":37.5},{"k":"K","i":37,"v":52.5},{"k":"K","i":37.8,"v":42.5},{"k":"K","i":39.2,"v":45},{"k":"K","i":40.9,"v":65},{"k":"K","i":42,"v":71},{"k":"K","i":43.7,"v":71},{"k":"K","i":44.8,"v":60},{"k":"K","i":46.5,"v":40},{"k":"K","i":48.2,"v":37.5},{"k":"K","i":49.3,"v":34},{"k":"K","i":51,"v":27.5},{"k":"K","i":52.1,"v":16},{"k":"K","i":54.4,"v":14},{"k":"K","i":56.6,"v":15},{"k":"K","i":58.3,"v":20},{"k":"K","i":60,"v":40},{"k":"K","i":61.1,"v":54},{"k":"K","i":62,"v":51},{"k":"K","i":63.3,"v":57.5},{"k":"K","i":64.5,"v":70},{"k":"K","i":66.7,"v":80},{"k":"K","i":67.8,"v":81.5},{"k":"K","i":70.1,"v":78.5},{"k":"K","i":71.7,"v":72.5},{"k":"K","i":73.4,"v":80},{"k":"K","i":75.7,"v":86.5},{"k":"K","i":77.1,"v":84},{"k":"K","i":77.9,"v":60},{"k":"K","i":80.2,"v":40},{"k":"K","i":82.4,"v":27.5},{"k":"K","i":83.5,"v":17.5},{"k":"K","i":85.8,"v":14},{"k":"K","i":88,"v":15},{"k":"K","i":90.3,"v":20},{"k":"K","i":92.5,"v":34},{"k":"K","i":94.2,"v":49},{"k":"K","i":95.3,"v":37.5},{"k":"K","i":98.1,"v":37.5},{"k":"K","i":99,"v":32.5},{"k":"K","i":100.4,"v":50},{"k":"K","i":102.1,"v":70},{"k":"K","i":103.7,"v":82.5},{"k":"K","i":106.6,"v":86},{"k":"K","i":108.2,"v":80},{"k":"K","i":110.5,"v":57.5},{"k":"K","i":112.7,"v":45},{"k":"K","i":115,"v":42.5},{"k":"K","i":117.2,"v":55},{"k":"K","i":119.5,"v":70},{"k":"K","i":121.2,"v":71},{"k":"K","i":122.3,"v":65},{"k":"K","i":123.4,"v":49},{"k":"K","i":125.1,"v":62.5},{"k":"K","i":126.8,"v":75},{"k":"K","i":128.5,"v":84},{"k":"K","i":129.9,"v":87.5},
      {"k":"D","i":-0.67,"v":70},{"k":"D","i":1,"v":72.5},{"k":"D","i":2.7,"v":77.5},{"k":"D","i":3.8,"v":74},{"k":"D","i":5,"v":62.5},{"k":"D","i":7.2,"v":45},{"k":"D","i":9.4,"v":37.5},{"k":"D","i":11.7,"v":39},{"k":"D","i":13.4,"v":41},{"k":"D","i":15.6,"v":50},{"k":"D","i":17.3,"v":59},{"k":"D","i":19.5,"v":58.5},{"k":"D","i":21.8,"v":67.5},{"k":"D","i":24.6,"v":65},{"k":"D","i":26.8,"v":65},{"k":"D","i":29.1,"v":55},{"k":"D","i":31.9,"v":40},{"k":"D","i":34.7,"v":34},{"k":"D","i":37.5,"v":41},{"k":"D","i":39.8,"v":46},{"k":"D","i":42,"v":62.5},{"k":"D","i":44.3,"v":67.5},{"k":"D","i":46.5,"v":52.5},{"k":"D","i":49.9,"v":40},{"k":"D","i":52.7,"v":25},{"k":"D","i":55.5,"v":17.5},{"k":"D","i":57.7,"v":16},{"k":"D","i":60,"v":27.5},{"k":"D","i":62.2,"v":42.5},{"k":"D","i":64.5,"v":60},{"k":"D","i":66.7,"v":70},{"k":"D","i":70.1,"v":77.5},{"k":"D","i":72.3,"v":75},{"k":"D","i":75.7,"v":82.5},{"k":"D","i":77.4,"v":80},{"k":"D","i":79,"v":62.5},{"k":"D","i":81.3,"v":45},{"k":"D","i":83.5,"v":27.5},{"k":"D","i":85.8,"v":16},{"k":"D","i":88,"v":17.5},{"k":"D","i":91.4,"v":25},{"k":"D","i":93.6,"v":37.5},{"k":"D","i":97,"v":41},{"k":"D","i":99,"v":37.5},{"k":"D","i":100.9,"v":50},{"k":"D","i":103.7,"v":69},{"k":"D","i":107.1,"v":80},{"k":"D","i":109.4,"v":75},{"k":"D","i":111.6,"v":60},{"k":"D","i":113.9,"v":49},{"k":"D","i":116.1,"v":47.5},{"k":"D","i":118.3,"v":60},{"k":"D","i":120.6,"v":66},{"k":"D","i":122.8,"v":62.5},{"k":"D","i":124.5,"v":57.5},{"k":"D","i":126.2,"v":67.5},{"k":"D","i":128.5,"v":75},{"k":"D","i":129.9,"v":81}
    ]
  },
  "vconcat": [
    {
      "width": 785,
      "height": 309,
      "resolve": {"scale": {"color": "independent"}},
      "layer": [
        {
          "data": {"name": "candles"},
          "mark": {"type": "rule", "clip": true, "strokeWidth": 1},
          "encoding": {
            "x": {"field": "i", "type": "quantitative", "scale": {"domain": [-0.67, 131.5], "nice": false, "zero": false}, "axis": null},
            "y": {"field": "l", "type": "quantitative", "title": null, "scale": {"domain": [0.7124, 0.7295], "nice": false, "zero": false},
                  "axis": {"orient": "right", "values": [0.714, 0.716, 0.718, 0.72, 0.722, 0.724, 0.726, 0.728], "labelExpr": "replace(format(datum.value, '.4f'), '.', '. ')", "labelPadding": 12, "grid": true, "title": null, "labelOverlap": false}},
            "y2": {"field": "h"},
            "color": {"condition": {"test": "datum.c >= datum.o", "value": "#d98a8c"}, "value": "#4e9f4e"}
          }
        },
        {
          "data": {"name": "candles"},
          "mark": {"type": "bar", "clip": true, "size": 4, "strokeWidth": 1},
          "encoding": {
            "x": {"field": "i", "type": "quantitative", "scale": {"domain": [-0.67, 131.5], "nice": false, "zero": false}, "axis": null},
            "y": {"field": "o", "type": "quantitative", "title": null, "scale": {"domain": [0.7124, 0.7295], "nice": false, "zero": false}},
            "y2": {"field": "c"},
            "fill": {"condition": {"test": "datum.c >= datum.o", "value": "#fdf1f1"}, "value": "#2f8f32"},
            "stroke": {"condition": {"test": "datum.c >= datum.o", "value": "#d47f82"}, "value": "#2f8f32"}
          }
        },
        {
          "data": {"name": "ma"},
          "mark": {"type": "line", "clip": true, "strokeWidth": 1},
          "encoding": {
            "x": {"field": "i", "type": "quantitative", "scale": {"domain": [-0.67, 131.5], "nice": false, "zero": false}, "axis": null},
            "y": {"field": "v", "type": "quantitative", "title": null, "scale": {"domain": [0.7124, 0.7295], "nice": false, "zero": false}},
            "color": {"field": "m", "type": "nominal", "legend": null,
                      "scale": {"domain": ["MA200", "MA120", "MA60", "MA30", "MA20", "MA10", "MA5"], "range": ["#f3b84a", "#4a9fd2", "#4c9a4c", "#8e3a3a", "#a9a9a9", "#dd44dd", "#222222"]}}
          }
        },
        {
          "data": {"name": "one"},
          "mark": {"type": "rule", "color": "#ee3535", "strokeWidth": 2.5},
          "encoding": {
            "x": {"datum": 106.8, "type": "quantitative", "scale": {"domain": [-0.67, 131.5], "nice": false, "zero": false}, "axis": null},
            "x2": {"datum": 130.7},
            "y": {"datum": 0.729273, "type": "quantitative", "title": null, "scale": {"domain": [0.7124, 0.7295], "nice": false, "zero": false}}
          }
        },
        {
          "data": {"name": "one"},
          "mark": {"type": "rule", "color": "#ee3535", "strokeWidth": 2.5},
          "encoding": {
            "x": {"datum": 121.6, "type": "quantitative", "scale": {"domain": [-0.67, 131.5], "nice": false, "zero": false}, "axis": null},
            "x2": {"datum": 131.2},
            "y": {"datum": 0.72396, "type": "quantitative", "title": null, "scale": {"domain": [0.7124, 0.7295], "nice": false, "zero": false}}
          }
        },
        {
          "data": {"name": "one"},
          "mark": {"type": "text", "text": "压力0.7300", "color": "#e24e52", "fontSize": 12, "align": "center", "baseline": "middle"},
          "encoding": {
            "x": {"datum": 113.5, "type": "quantitative", "scale": {"domain": [-0.67, 131.5], "nice": false, "zero": false}, "axis": null},
            "y": {"datum": 0.728221, "type": "quantitative", "title": null, "scale": {"domain": [0.7124, 0.7295], "nice": false, "zero": false}}
          }
        },
        {
          "data": {"name": "one"},
          "mark": {"type": "text", "text": "支撑0.7240", "color": "#e24e52", "fontSize": 12, "align": "center", "baseline": "middle"},
          "encoding": {
            "x": {"datum": 122.9, "type": "quantitative", "scale": {"domain": [-0.67, 131.5], "nice": false, "zero": false}, "axis": null},
            "y": {"datum": 0.722964, "type": "quantitative", "title": null, "scale": {"domain": [0.7124, 0.7295], "nice": false, "zero": false}}
          }
        },
        {
          "data": {"name": "one"},
          "mark": {"type": "text", "text": "0. 7287", "color": "#c97b3d", "fontSize": 8, "font": "Liberation Sans", "align": "right", "baseline": "middle"},
          "encoding": {
            "x": {"datum": 126.5, "type": "quantitative", "scale": {"domain": [-0.67, 131.5], "nice": false, "zero": false}, "axis": null},
            "y": {"datum": 0.728443, "type": "quantitative", "title": null, "scale": {"domain": [0.7124, 0.7295], "nice": false, "zero": false}}
          }
        },
        {
          "data": {"name": "one"},
          "mark": {"type": "rule", "color": "#c97b3d", "strokeWidth": 1},
          "encoding": {
            "x": {"datum": 126.9, "type": "quantitative", "scale": {"domain": [-0.67, 131.5], "nice": false, "zero": false}, "axis": null},
            "x2": {"datum": 128.4},
            "y": {"datum": 0.728443, "type": "quantitative", "title": null, "scale": {"domain": [0.7124, 0.7295], "nice": false, "zero": false}},
            "y2": {"datum": 0.728664}
          }
        },
        {
          "data": {"name": "one"},
          "mark": {"type": "text", "text": "0. 7130", "color": "#c97b3d", "fontSize": 8, "font": "Liberation Sans", "align": "left", "baseline": "middle"},
          "encoding": {
            "x": {"datum": 100.7, "type": "quantitative", "scale": {"domain": [-0.67, 131.5], "nice": false, "zero": false}, "axis": null},
            "y": {"datum": 0.71328, "type": "quantitative", "title": null, "scale": {"domain": [0.7124, 0.7295], "nice": false, "zero": false}}
          }
        },
        {
          "data": {"name": "one"},
          "mark": {"type": "rule", "color": "#c97b3d", "strokeWidth": 1},
          "encoding": {
            "x": {"datum": 99, "type": "quantitative", "scale": {"domain": [-0.67, 131.5], "nice": false, "zero": false}, "axis": null},
            "x2": {"datum": 100.5},
            "y": {"datum": 0.712946, "type": "quantitative", "title": null, "scale": {"domain": [0.7124, 0.7295], "nice": false, "zero": false}},
            "y2": {"datum": 0.713223}
          }
        },
        {
          "data": {"name": "one"},
          "mark": {"type": "rect", "color": "#ececec"},
          "encoding": {
            "x": {"datum": 131.75, "type": "quantitative", "scale": {"domain": [-0.67, 131.5], "nice": false, "zero": false}, "axis": null},
            "x2": {"datum": 138.4},
            "y": {"datum": 0.721746, "type": "quantitative", "title": null, "scale": {"domain": [0.7124, 0.7295], "nice": false, "zero": false}},
            "y2": {"datum": 0.721193}
          }
        },
        {
          "data": {"name": "one"},
          "mark": {"type": "text", "text": "0. 7212", "color": "#777777", "fontSize": 8.5, "font": "Liberation Sans", "align": "left", "baseline": "middle"},
          "encoding": {
            "x": {"datum": 133.55, "type": "quantitative", "scale": {"domain": [-0.67, 131.5], "nice": false, "zero": false}, "axis": null},
            "y": {"datum": 0.721469, "type": "quantitative", "title": null, "scale": {"domain": [0.7124, 0.7295], "nice": false, "zero": false}}
          }
        },
        {
          "data": {"name": "one"},
          "mark": {"type": "text", "text": "澳/美 2 小时走势", "color": "#222222", "fontSize": 22.5, "align": "center", "baseline": "middle"},
          "encoding": {
            "x": {"datum": 69.9, "type": "quantitative", "scale": {"domain": [-0.67, 131.5], "nice": false, "zero": false}, "axis": null},
            "y": {"datum": 0.729771, "type": "quantitative", "title": null, "scale": {"domain": [0.7124, 0.7295], "nice": false, "zero": false}}
          }
        },
        {
          "data": {"name": "one"},
          "mark": {"type": "point", "shape": "M -1 -0.26 L 0.12 -0.26 L 0.12 -0.62 L 1 0 L 0.12 0.62 L 0.12 0.26 L -1 0.26 Z", "size": 900, "angle": 45, "filled": true, "fill": "white", "stroke": "#ee2020", "strokeWidth": 2.5, "opacity": 1},
          "encoding": {
            "x": {"datum": 132.0, "type": "quantitative", "scale": {"domain": [-0.67, 131.5], "nice": false, "zero": false}, "axis": null},
            "y": {"datum": 0.728055, "type": "quantitative", "title": null, "scale": {"domain": [0.7124, 0.7295], "nice": false, "zero": false}}
          }
        },
        {
          "data": {"name": "one"},
          "mark": {"type": "point", "shape": "M -1 -0.26 L 0.12 -0.26 L 0.12 -0.62 L 1 0 L 0.12 0.62 L 0.12 0.26 L -1 0.26 Z", "size": 1500, "angle": -40, "filled": true, "fill": "white", "stroke": "#ee2020", "strokeWidth": 2.5, "opacity": 1},
          "encoding": {
            "x": {"datum": 137.25, "type": "quantitative", "scale": {"domain": [-0.67, 131.5], "nice": false, "zero": false}, "axis": null},
            "y": {"datum": 0.728609, "type": "quantitative", "title": null, "scale": {"domain": [0.7124, 0.7295], "nice": false, "zero": false}}
          }
        }
      ]
    },
    {
      "width": 785,
      "height": 67,
      "resolve": {"scale": {"color": "independent"}},
      "layer": [
        {
          "data": {"name": "hist"},
          "mark": {"type": "rule", "clip": true, "strokeWidth": 1},
          "encoding": {
            "x": {"field": "i", "type": "quantitative", "scale": {"domain": [-0.67, 131.5], "nice": false, "zero": false}, "axis": null},
            "y": {"field": "h", "type": "quantitative", "title": null, "scale": {"domain": [-0.973, 1.604], "nice": false, "zero": false},
                  "axis": {"orient": "right", "values": [1, 0, -0.78], "labelExpr": "datum.value < -0.1 ? '-0. 0000' : '0. 0000'", "labelPadding": 12, "grid": true, "title": null, "labelOverlap": false, "labelSeparation": 0}},
            "y2": {"datum": 0},
            "color": {"condition": {"test": "datum.h >= 0", "value": "#e08a8c"}, "value": "#6aab6a"}
          }
        },
        {
          "data": {"name": "macd"},
          "mark": {"type": "line", "clip": true, "strokeWidth": 1},
          "encoding": {
            "x": {"field": "i", "type": "quantitative", "scale": {"domain": [-0.67, 131.5], "nice": false, "zero": false}, "axis": null},
            "y": {"field": "v", "type": "quantitative", "title": null, "scale": {"domain": [-0.973, 1.604], "nice": false, "zero": false}},
            "color": {"field": "k", "type": "nominal", "legend": null, "scale": {"domain": ["DEA", "DIF"], "range": ["#d53fd5", "#2a2a2a"]}}
          }
        },
        {
          "data": {"name": "one"},
          "mark": {"type": "text", "text": "0. 0000", "color": "#888888", "fontSize": 8.5, "font": "Liberation Sans", "align": "left", "baseline": "middle"},
          "encoding": {
            "x": {"datum": 133.55, "type": "quantitative", "scale": {"domain": [-0.67, 131.5], "nice": false, "zero": false}, "axis": null},
            "y": {"datum": 0, "type": "quantitative", "title": null, "scale": {"domain": [-0.973, 1.604], "nice": false, "zero": false}}
          }
        },
        {
          "data": {"name": "one"},
          "mark": {"type": "text", "text": "B ↑", "color": "#333333", "font": "DejaVu Sans Mono", "fontSize": 7, "align": "left", "baseline": "middle"},
          "encoding": {
            "x": {"datum": -0.67, "type": "quantitative", "scale": {"domain": [-0.67, 131.5], "nice": false, "zero": false}, "axis": null},
            "y": {"datum": 1.373, "type": "quantitative", "title": null, "scale": {"domain": [-0.973, 1.604], "nice": false, "zero": false}}
          }
        },
        {
          "data": {"name": "one"},
          "mark": {"type": "text", "text": "DEA:0.0007 ↑", "color": "#cc33cc", "font": "DejaVu Sans Mono", "fontSize": 7, "align": "left", "baseline": "middle"},
          "encoding": {
            "x": {"datum": 2.19, "type": "quantitative", "scale": {"domain": [-0.67, 131.5], "nice": false, "zero": false}, "axis": null},
            "y": {"datum": 1.373, "type": "quantitative", "title": null, "scale": {"domain": [-0.973, 1.604], "nice": false, "zero": false}}
          }
        },
        {
          "data": {"name": "one"},
          "mark": {"type": "text", "text": "MACD:0.0022 ↑", "color": "#888888", "font": "DejaVu Sans Mono", "fontSize": 7, "align": "left", "baseline": "middle"},
          "encoding": {
            "x": {"datum": 11.45, "type": "quantitative", "scale": {"domain": [-0.67, 131.5], "nice": false, "zero": false}, "axis": null},
            "y": {"datum": 1.373, "type": "quantitative", "title": null, "scale": {"domain": [-0.973, 1.604], "nice": false, "zero": false}}
          }
        },
        {
          "data": {"name": "one"},
          "mark": {"type": "text", "text": "改参数", "color": "#666666", "fontSize": 8.5, "align": "left", "baseline": "middle"},
          "encoding": {
            "x": {"datum": 113.7, "type": "quantitative", "scale": {"domain": [-0.67, 131.5], "nice": false, "zero": false}, "axis": null},
            "y": {"datum": 1.373, "type": "quantitative", "title": null, "scale": {"domain": [-0.973, 1.604], "nice": false, "zero": false}}
          }
        },
        {
          "data": {"name": "one"},
          "mark": {"type": "text", "text": "加指标", "color": "#666666", "fontSize": 8.5, "align": "left", "baseline": "middle"},
          "encoding": {
            "x": {"datum": 118.9, "type": "quantitative", "scale": {"domain": [-0.67, 131.5], "nice": false, "zero": false}, "axis": null},
            "y": {"datum": 1.373, "type": "quantitative", "title": null, "scale": {"domain": [-0.973, 1.604], "nice": false, "zero": false}}
          }
        },
        {
          "data": {"name": "one"},
          "mark": {"type": "text", "text": "换指标", "color": "#666666", "fontSize": 8.5, "align": "left", "baseline": "middle"},
          "encoding": {
            "x": {"datum": 124.3, "type": "quantitative", "scale": {"domain": [-0.67, 131.5], "nice": false, "zero": false}, "axis": null},
            "y": {"datum": 1.373, "type": "quantitative", "title": null, "scale": {"domain": [-0.973, 1.604], "nice": false, "zero": false}}
          }
        },
        {
          "data": {"name": "one"},
          "mark": {"type": "point", "shape": "square", "size": 64, "filled": false, "color": "#aaaaaa", "strokeWidth": 1, "opacity": 1},
          "encoding": {
            "x": {"datum": 130.5, "type": "quantitative", "scale": {"domain": [-0.67, 131.5], "nice": false, "zero": false}, "axis": null},
            "y": {"datum": 1.373, "type": "quantitative", "title": null, "scale": {"domain": [-0.973, 1.604], "nice": false, "zero": false}}
          }
        },
        {
          "data": {"name": "one"},
          "mark": {"type": "text", "text": "×", "color": "#888888", "fontSize": 9, "font": "DejaVu Sans", "align": "center", "baseline": "middle"},
          "encoding": {
            "x": {"datum": 130.5, "type": "quantitative", "scale": {"domain": [-0.67, 131.5], "nice": false, "zero": false}, "axis": null},
            "y": {"datum": 1.373, "type": "quantitative", "title": null, "scale": {"domain": [-0.973, 1.604], "nice": false, "zero": false}}
          }
        }
      ]
    },
    {
      "width": 785,
      "height": 66,
      "resolve": {"scale": {"color": "independent"}},
      "layer": [
        {
          "data": {"name": "kd"},
          "mark": {"type": "line", "clip": true, "strokeWidth": 1},
          "encoding": {
            "x": {"field": "i", "type": "quantitative", "scale": {"domain": [-0.67, 131.5], "nice": false, "zero": false}, "axis": null},
            "y": {"field": "v", "type": "quantitative", "title": null, "scale": {"domain": [14, 113], "nice": false, "zero": false},
                  "axis": {"orient": "right", "values": [20, 50, 80], "labelExpr": "format(datum.value, '.0f') + '. 0000'", "labelPadding": 10, "grid": true, "title": null, "labelOverlap": false, "labelSeparation": 0}},
            "color": {"field": "k", "type": "nominal", "legend": null, "scale": {"domain": ["D", "K"], "range": ["#d53fd5", "#2a2a2a"]}}
          }
        },
        {
          "data": {"name": "one"},
          "mark": {"type": "rule", "color": "#ee3535", "strokeWidth": 2.5},
          "encoding": {
            "x": {"datum": 108.8, "type": "quantitative", "scale": {"domain": [-0.67, 131.5], "nice": false, "zero": false}, "axis": null},
            "x2": {"datum": 130.7},
            "y": {"datum": 48.5, "type": "quantitative", "title": null, "scale": {"domain": [14, 113], "nice": false, "zero": false}}
          }
        },
        {
          "data": {"name": "one"},
          "mark": {"type": "text", "text": "50. 0000", "color": "#888888", "fontSize": 8.5, "font": "Liberation Sans", "align": "left", "baseline": "middle"},
          "encoding": {
            "x": {"datum": 133.2, "type": "quantitative", "scale": {"domain": [-0.67, 131.5], "nice": false, "zero": false}, "axis": null},
            "y": {"datum": 50, "type": "quantitative", "title": null, "scale": {"domain": [14, 113], "nice": false, "zero": false}}
          }
        },
        {
          "data": {"name": "one"},
          "mark": {"type": "text", "text": "KD在50以上，多方掌控", "color": "#e24e52", "fontSize": 12.5, "align": "center", "baseline": "middle"},
          "encoding": {
            "x": {"datum": 119.1, "type": "quantitative", "scale": {"domain": [-0.67, 131.5], "nice": false, "zero": false}, "axis": null},
            "y": {"datum": 69.5, "type": "quantitative", "title": null, "scale": {"domain": [14, 113], "nice": false, "zero": false}}
          }
        },
        {
          "data": {"name": "one"},
          "mark": {"type": "text", "text": ":84.2834 ↑", "color": "#cc33cc", "font": "DejaVu Sans Mono", "fontSize": 7, "align": "left", "baseline": "middle"},
          "encoding": {
            "x": {"datum": -0.67, "type": "quantitative", "scale": {"domain": [-0.67, 131.5], "nice": false, "zero": false}, "axis": null},
            "y": {"datum": 102.5, "type": "quantitative", "title": null, "scale": {"domain": [14, 113], "nice": false, "zero": false}}
          }
        },
        {
          "data": {"name": "one"},
          "mark": {"type": "text", "text": "改参数", "color": "#666666", "fontSize": 8.5, "align": "left", "baseline": "middle"},
          "encoding": {
            "x": {"datum": 113.7, "type": "quantitative", "scale": {"domain": [-0.67, 131.5], "nice": false, "zero": false}, "axis": null},
            "y": {"datum": 101, "type": "quantitative", "title": null, "scale": {"domain": [14, 113], "nice": false, "zero": false}}
          }
        },
        {
          "data": {"name": "one"},
          "mark": {"type": "text", "text": "加指标", "color": "#666666", "fontSize": 8.5, "align": "left", "baseline": "middle"},
          "encoding": {
            "x": {"datum": 118.9, "type": "quantitative", "scale": {"domain": [-0.67, 131.5], "nice": false, "zero": false}, "axis": null},
            "y": {"datum": 101, "type": "quantitative", "title": null, "scale": {"domain": [14, 113], "nice": false, "zero": false}}
          }
        },
        {
          "data": {"name": "one"},
          "mark": {"type": "text", "text": "换指标", "color": "#666666", "fontSize": 8.5, "align": "left", "baseline": "middle"},
          "encoding": {
            "x": {"datum": 124.3, "type": "quantitative", "scale": {"domain": [-0.67, 131.5], "nice": false, "zero": false}, "axis": null},
            "y": {"datum": 101, "type": "quantitative", "title": null, "scale": {"domain": [14, 113], "nice": false, "zero": false}}
          }
        },
        {
          "data": {"name": "one"},
          "mark": {"type": "point", "shape": "square", "size": 64, "filled": false, "color": "#aaaaaa", "strokeWidth": 1, "opacity": 1},
          "encoding": {
            "x": {"datum": 130.5, "type": "quantitative", "scale": {"domain": [-0.67, 131.5], "nice": false, "zero": false}, "axis": null},
            "y": {"datum": 101, "type": "quantitative", "title": null, "scale": {"domain": [14, 113], "nice": false, "zero": false}}
          }
        },
        {
          "data": {"name": "one"},
          "mark": {"type": "text", "text": "×", "color": "#888888", "fontSize": 9, "font": "DejaVu Sans", "align": "center", "baseline": "middle"},
          "encoding": {
            "x": {"datum": 130.5, "type": "quantitative", "scale": {"domain": [-0.67, 131.5], "nice": false, "zero": false}, "axis": null},
            "y": {"datum": 101, "type": "quantitative", "title": null, "scale": {"domain": [14, 113], "nice": false, "zero": false}}
          }
        }
      ]
    }
  ]
}
